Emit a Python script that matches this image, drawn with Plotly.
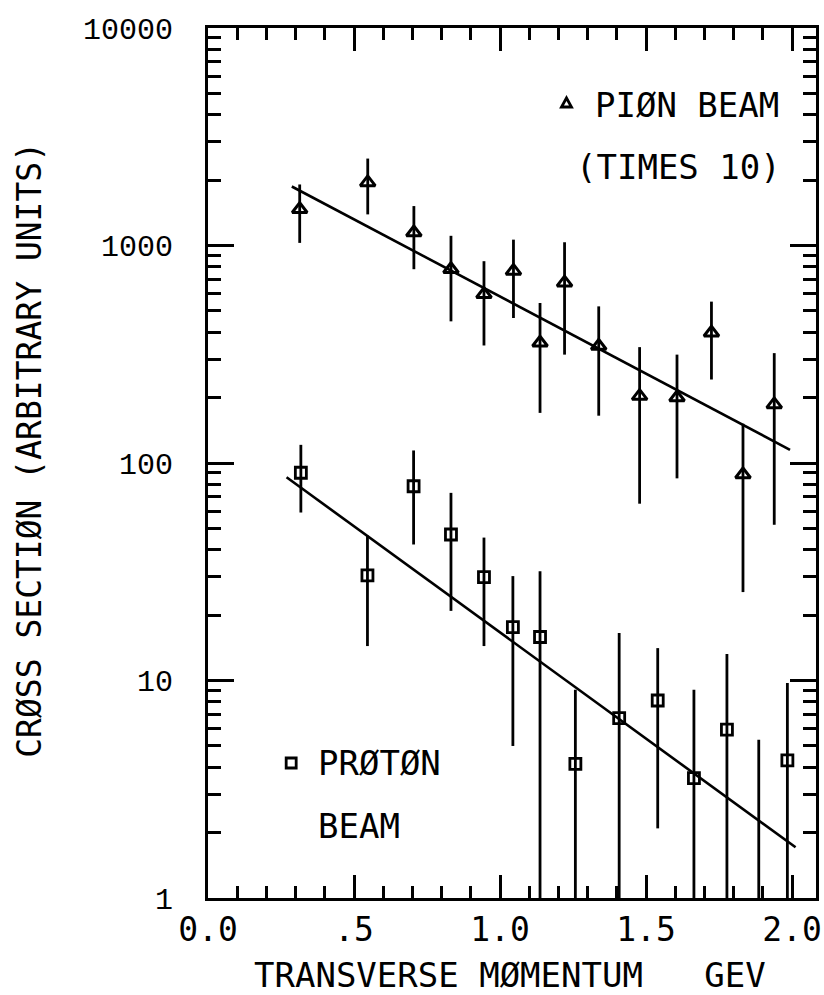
import plotly.graph_objects as go

# ---- data ----
pion_x = [0.314, 0.547, 0.705, 0.832, 0.945, 1.046, 1.137, 1.221, 1.338, 1.478, 1.606, 1.724, 1.832, 1.939]
pion_y = [1468, 1950, 1148, 778, 597, 764, 357, 675, 345, 203, 200, 397, 88.5, 186]
pion_err = [440, 560, 370, 330, 250, 300, 187, 360, 180, 138, 115, 155, 63, 134]

proton_x = [0.318, 0.546, 0.704, 0.832, 0.945, 1.044, 1.137, 1.258, 1.408, 1.540, 1.664, 1.777, 1.886, 1.984]
proton_y = [90.2, 30.4, 78.2, 46.9, 29.9, 17.6, 15.85, 4.14, 6.72, 8.09, 3.56, 5.94, 0.5, 4.29]
proton_err = [31, 16, 36, 26, 15.5, 12.6, 15.9, 4.92, 9.8, 6.0, 5.5, 7.3, 4.84, 5.44]

pion_fit_x = [0.287, 1.993]
pion_fit_y = [1868, 115]
proton_fit_x = [0.269, 2.012]
proton_fit_y = [86, 1.71]

x_tickvals = [0.0, 0.5, 1.0, 1.5, 2.0]
x_ticktext = ["0.0", ".5", "1.0", "1.5", "2.0"]
y_tickvals = [1, 10, 100, 1000, 10000]
y_ticktext = ["1", "10", "100", "1000", "10000"]

TITLE_FONT = "DejaVu Sans Mono"
INK = "black"

fig = go.Figure()

fig.add_trace(go.Scatter(
    x=pion_fit_x, y=pion_fit_y, mode="lines",
    line=dict(color=INK, width=2.6), showlegend=False, hoverinfo="skip"))
fig.add_trace(go.Scatter(
    x=proton_fit_x, y=proton_fit_y, mode="lines",
    line=dict(color=INK, width=2.6), showlegend=False, hoverinfo="skip"))

fig.add_trace(go.Scatter(
    x=pion_x, y=pion_y, mode="markers", name="PIØN BEAM (TIMES 10)",
    marker=dict(symbol="triangle-up-open", size=13, color=INK, line=dict(width=3, color=INK)),
    error_y=dict(type="data", array=pion_err, visible=True, width=0, thickness=2.8, color=INK),
    showlegend=False))
fig.add_trace(go.Scatter(
    x=proton_x, y=proton_y, mode="markers", name="PRØTØN BEAM",
    marker=dict(symbol="square-open", size=11, color=INK, line=dict(width=2.8, color=INK)),
    error_y=dict(type="data", array=proton_err, visible=True, width=0, thickness=2.8, color=INK),
    showlegend=False))

minor_y = [m * 10 ** d for d in range(4) for m in range(2, 10)]

fig.update_xaxes(
    range=[0, 2.082], showgrid=False, zeroline=False,
    showline=True, linecolor=INK, linewidth=3, mirror="allticks",
    ticks="inside", ticklen=23, tickwidth=2.5, tickcolor=INK,
    tickmode="array", tickvals=x_tickvals, ticktext=x_ticktext,
    tickfont=dict(family=TITLE_FONT, size=33, color=INK),
    ticklabelstandoff=0, ticklabeloverflow="allow",
    minor=dict(ticks="inside", ticklen=12, tickwidth=2.5, tickcolor=INK, dtick=0.1, tick0=0, showgrid=False),
)
fig.update_yaxes(
    type="log", range=[0, 4], showgrid=False, zeroline=False,
    showline=True, linecolor=INK, linewidth=3, mirror="allticks",
    ticks="inside", ticklen=26, tickwidth=2.5, tickcolor=INK,
    tickmode="array", tickvals=y_tickvals, ticktext=y_ticktext,
    tickfont=dict(family="Liberation Mono", size=30, color=INK),
    ticklabelstandoff=26, ticklabeloverflow="allow",
    minor=dict(ticks="inside", ticklen=13, tickwidth=2.5, tickcolor=INK,
               tickmode="array", tickvals=minor_y, showgrid=False),
)

ann_font = dict(family=TITLE_FONT, size=34, color=INK)
annotations = [
    dict(text="TRANSVERSE MØMENTUM   GEV", x=0.497, y=-0.088, xref="paper", yref="paper",
         xanchor="center", yanchor="middle", showarrow=False, font=ann_font),
    dict(text="CRØSS SECTIØN (ARBITRARY UNITS)", x=-0.293, y=0.515, xref="paper", yref="paper",
         xanchor="center", yanchor="middle", showarrow=False, textangle=-90,
         font=dict(family=TITLE_FONT, size=33, color=INK)),
    dict(text="PIØN BEAM", x=0.6336, y=0.9115, xref="paper", yref="paper",
         xanchor="left", yanchor="middle", showarrow=False, font=ann_font),
    dict(text="(TIMES 10)", x=0.6026, y=0.8402, xref="paper", yref="paper",
         xanchor="left", yanchor="middle", showarrow=False, font=ann_font),
    dict(text="PRØTØN", x=0.1775, y=0.1552, xref="paper", yref="paper",
         xanchor="left", yanchor="middle", showarrow=False, font=ann_font),
    dict(text="BEAM", x=0.1775, y=0.0828, xref="paper", yref="paper",
         xanchor="left", yanchor="middle", showarrow=False, font=ann_font),
]

# legend key glyphs (open triangle / open square), sized in pixels
shapes = [
    dict(type="path", xref="paper", yref="paper", xsizemode="pixel", ysizemode="pixel",
         xanchor=0.5896, yanchor=0.9138, path="M -5,-4 L 5,-4 L 0,5 Z",
         line=dict(color=INK, width=2.8), fillcolor="rgba(0,0,0,0)"),
    dict(type="rect", xref="paper", yref="paper", xsizemode="pixel", ysizemode="pixel",
         xanchor=0.1368, yanchor=0.1552, x0=-5, x1=5, y0=-5, y1=5,
         line=dict(color=INK, width=2.8), fillcolor="rgba(0,0,0,0)"),
]

fig.update_layout(
    width=824, height=995,
    margin=dict(l=208, r=2, t=28, b=97),
    paper_bgcolor="white", plot_bgcolor="white",
    showlegend=False,
    annotations=annotations,
    shapes=shapes,
)

fig.write_html("out.html")
